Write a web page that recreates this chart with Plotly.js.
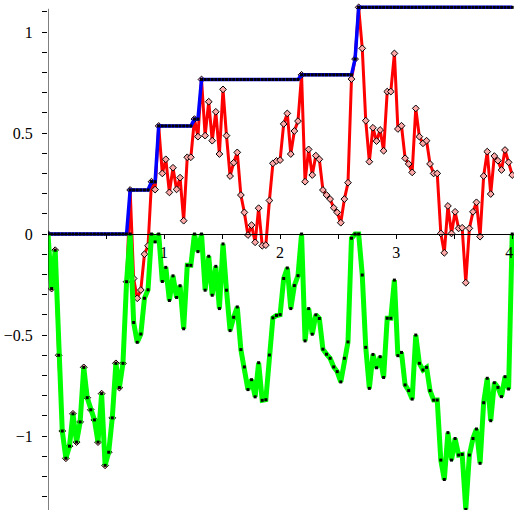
<!DOCTYPE html>
<html>
<head>
<meta charset="utf-8">
<script src="https://cdn.plot.ly/plotly-3.0.1.min.js"></script>
<style>
html,body{margin:0;padding:0;background:#fff;}
#chart{width:514px;height:510px;}
</style>
</head>
<body>
<div id="chart"></div>
<script>
// sampling times
const t = [
 0,0.031,0.062,0.092,0.123,0.154,0.185,0.215,0.246,0.277,0.308,0.338,0.369,
 0.4,0.431,0.462,0.492,0.523,0.554,0.585,0.615,0.646,0.677,0.708,0.738,0.769,
 0.8,0.831,0.862,0.892,0.923,0.954,0.985,1.015,1.046,1.077,1.108,1.138,1.169,
 1.2,1.231,1.262,1.292,1.323,1.354,1.385,1.415,1.446,1.477,1.508,1.538,1.569,
 1.6,1.631,1.662,1.692,1.723,1.754,1.785,1.815,1.846,1.877,1.908,1.938,1.969,
 2.0,2.031,2.062,2.092,2.123,2.154,2.185,2.215,2.246,2.277,2.308,2.338,2.369,
 2.4,2.431,2.462,2.492,2.523,2.554,2.585,2.615,2.646,2.677,2.708,2.738,2.769,
 2.8,2.831,2.862,2.892,2.923,2.954,2.985,3.015,3.046,3.077,3.108,3.138,3.169,
 3.2,3.231,3.262,3.292,3.323,3.354,3.385,3.415,3.446,3.477,3.508,3.538,3.569,
 3.6,3.631,3.662,3.692,3.723,3.754,3.785,3.815,3.846,3.877,3.908,3.938,3.969,
 4.0
];
// red path W
const pathW = [
 0,-0.27,-0.08,-0.60,-0.975,-1.11,-1.05,-0.89,-1.03,-0.93,-0.66,-0.81,-0.87,
 -0.92,-1.03,-0.79,-1.145,-1.08,-0.91,-0.64,-0.76,-0.64,-0.236,0.218,-0.22,-0.318,
 -0.277,-0.1,-0.058,0.259,0.22,0.535,0.30,0.37,0.206,0.328,0.221,0.279,0.066,
 0.38,0.38,0.569,0.482,0.765,0.487,0.655,0.462,0.605,0.396,0.716,0.487,0.287,
 0.353,0.404,0.193,0.107,-0.005,0.044,-0.041,0.128,-0.058,-0.055,0.166,0.35,0.362,
 0.366,0.545,0.597,0.396,0.51,0.559,0.788,0.259,0.419,0.292,0.388,0.37,0.218,
 0.193,0.173,0.13,0.107,0.056,0.173,0.254,0.767,0.866,1.122,0.919,0.561,0.358,
 0.526,0.46,0.515,0.412,0.705,0.705,0.894,0.52,0.536,0.375,0.347,0.305,0.622,
 0.482,0.449,0.462,0.347,0.30,0.30,0.003,-0.093,0.139,0.003,0.11,0.028,0.031,
 -0.241,0.028,0.11,0.157,-0.013,0.287,0.408,0.198,0.386,0.363,0.317,0.416,0.355,
 0.292
];
// blue running maximum M
const maxM = [
 0,0,0,0,0,0,0,0,0,0,0,0,0,
 0,0,0,0,0,0,0,0,0,0,0.218,0.218,0.218,
 0.218,0.218,0.218,0.259,0.259,0.535,0.535,0.535,0.535,0.535,0.535,0.535,0.535,
 0.535,0.535,0.569,0.569,0.765,0.765,0.765,0.765,0.765,0.765,0.765,0.765,0.765,
 0.765,0.765,0.765,0.765,0.765,0.765,0.765,0.765,0.765,0.765,0.765,0.765,0.765,
 0.765,0.765,0.765,0.765,0.765,0.765,0.788,0.788,0.788,0.788,0.788,0.788,0.788,
 0.788,0.788,0.788,0.788,0.788,0.788,0.788,0.788,0.866,1.122,1.122,1.122,1.122,
 1.122,1.122,1.122,1.122,1.122,1.122,1.122,1.122,1.122,1.122,1.122,1.122,1.122,
 1.122,1.122,1.122,1.122,1.122,1.122,1.122,1.122,1.122,1.122,1.122,1.122,1.122,
 1.122,1.122,1.122,1.122,1.122,1.122,1.122,1.122,1.122,1.122,1.122,1.122,1.122,
 1.122
];
// green W - M
const diffG = [
 0,-0.27,-0.08,-0.60,-0.975,-1.11,-1.05,-0.89,-1.03,-0.93,-0.66,-0.81,-0.87,
 -0.92,-1.03,-0.79,-1.145,-1.08,-0.91,-0.64,-0.76,-0.64,-0.236,0,-0.438,-0.536,
 -0.495,-0.318,-0.276,0,-0.039,0,-0.235,-0.165,-0.329,-0.207,-0.314,-0.256,-0.469,
 -0.155,-0.155,0,-0.087,0,-0.278,-0.11,-0.303,-0.16,-0.369,-0.049,-0.278,-0.478,
 -0.412,-0.361,-0.572,-0.658,-0.77,-0.721,-0.806,-0.637,-0.823,-0.82,-0.599,-0.415,-0.403,
 -0.399,-0.22,-0.168,-0.369,-0.255,-0.206,0,-0.529,-0.369,-0.496,-0.4,-0.418,-0.57,
 -0.595,-0.615,-0.658,-0.681,-0.732,-0.615,-0.534,-0.021,0,0,-0.203,-0.561,-0.764,
 -0.596,-0.662,-0.607,-0.71,-0.417,-0.417,-0.228,-0.602,-0.586,-0.747,-0.775,-0.817,-0.5,
 -0.64,-0.673,-0.66,-0.775,-0.822,-0.822,-1.119,-1.215,-0.983,-1.119,-1.012,-1.094,-1.091,
 -1.363,-1.094,-1.012,-0.965,-1.135,-0.835,-0.714,-0.924,-0.736,-0.759,-0.805,-0.706,-0.767,
 0
];
const xTickVals = [0.5,1,1.5,2,2.5,3,3.5,4];
const xTickText = ['','1','','2','','3','',''];
const xEdgeTickVals = [4];
const xEdgeTickText = ['4'];
const yTickVals = [-1,-0.5,0,0.5,1];

const yMin = -1.366, yMax = 1.1485;
const xRange = [0, 4.0155];
const xPos = (0 - yMin) / (yMax - yMin);
const tickFont = {family:'Liberation Serif, Times New Roman, DejaVu Serif, serif', size:16, color:'#000'};

const traces = [
 {x:t, y:pathW, type:'scatter', mode:'lines+markers',
  line:{color:'#ff0000', width:3},
  marker:{symbol:'diamond', size:5.2, color:'#ffa8a8', line:{color:'#000', width:1}},
  hoverinfo:'skip'},
 {x:t, y:maxM, type:'scatter', mode:'lines+markers',
  line:{color:'#0000ff', width:3.5},
  marker:{symbol:'square', size:3, color:'#000', line:{width:0}},
  hoverinfo:'skip'},
 {x:t, y:diffG, type:'scatter', mode:'lines+markers',
  line:{color:'#00ff00', width:5},
  marker:{symbol:'square', size:3, color:'#000', line:{width:0}},
  hoverinfo:'skip'},
 {x:[], y:[], xaxis:'x2', yaxis:'y', type:'scatter', mode:'lines', hoverinfo:'skip', showlegend:false}
];

const layout = {
 width:514, height:510,
 margin:{l:48, r:0, t:2, b:0, pad:0},
 paper_bgcolor:'#fff', plot_bgcolor:'#fff',
 showlegend:false,
 xaxis:{
  range:xRange, anchor:'free', position:xPos,
  showline:true, linecolor:'#000', linewidth:1,
  showgrid:false, zeroline:false,
  tickmode:'array', tickvals:xTickVals, ticktext:xTickText,
  ticks:'outside', ticklen:4, tickcolor:'#000', tickwidth:1,
  tickfont:tickFont
 },
 xaxis2:{
  range:xRange, anchor:'free', position:xPos, overlaying:'x', side:'bottom',
  showline:false, showgrid:false, zeroline:false,
  tickmode:'array', tickvals:xEdgeTickVals, ticktext:xEdgeTickText,
  ticks:'outside', ticklen:4, tickcolor:'rgba(0,0,0,0)',
  ticklabelshift:-3, ticklabeloverflow:'allow',
  tickfont:tickFont
 },
 yaxis:{
  range:[yMin,yMax],
  showline:false, showgrid:false, zeroline:false,
  tickmode:'array', tickvals:yTickVals,
  ticks:'outside', ticklen:5, tickcolor:'#000', tickwidth:1,
  minor:{dtick:0.1, tick0:0, ticks:'outside', ticklen:5, tickcolor:'#000', tickwidth:1, showgrid:false},
  ticklabelstandoff:6,
  tickfont:tickFont
 },
 shapes:[
  {type:'line', xref:'x', yref:'y', x0:0, x1:0, y0:yMin, y1:1.115, line:{color:'#000', width:1}, layer:'above'}
 ]
};

Plotly.newPlot('chart', traces, layout, {staticPlot:true, displayModeBar:false});
</script>
</body>
</html>
